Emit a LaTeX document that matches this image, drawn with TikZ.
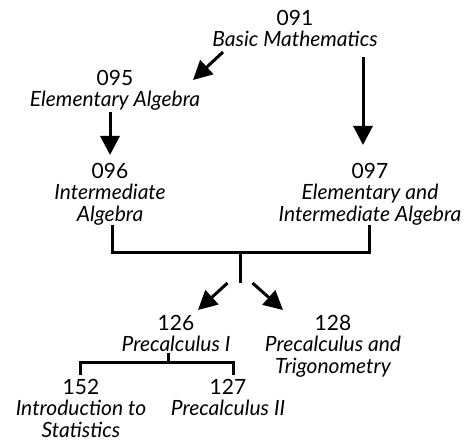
\documentclass[tikz,border=0pt]{standalone}
\usepackage{fontspec}
\setmainfont{Lato}
\usepackage{tikz}
\usetikzlibrary{calc}
\usetikzlibrary{arrows.meta}
\newcommand{\course}[2]{\textup{#1}\\#2}
\tikzset{
    course/.style={anchor=north, align=center, inner sep=0pt, font=\fontsize{21}{21.5}\selectfont\itshape},
    prereq/.style={-{Triangle[length=19pt,width=19pt]}, line width=3pt},
    bar/.style={line width=3pt},
}

\begin{document}
\begin{tikzpicture}[x=1pt,y=-1pt]
    \useasboundingbox (0,0) rectangle (474,441);
    \path
        node[course] (n091) at (295,10) {\course{091}{Basic Mathematics}}
        node[course] (n095) at (115,70) {\course{095}{Elementary Algebra}}
        node[course] (n096) at (110,163) {\course{096}{Intermediate\\Algebra}}
        node[course] (n097) at (370,163) {\course{097}{Elementary and\\Intermediate Algebra}}
        node[course] (n126) at (176,315) {\course{126}{Precalculus I}}
        node[course] (n128) at (333,315) {\course{128}{Precalculus and\\Trigonometry}}
        node[course] (n152) at (81,379) {\course{152}{Introduction to\\Statistics}}
        node[course] (n127) at (228,379) {\course{127}{Precalculus II}};

    \draw[prereq] ([shift={(-72,42)}]n091.north) -- ([shift={(78,10)}]n095.north);
    \draw[prereq] ([shift={(68,47)}]n091.north) -- ([shift={(-7,-18)}]n097.north);
    \draw[prereq] ([shift={(-5,42)}]n095.north) -- ([shift={(0,-8)}]n096.north);

    \coordinate (top096) at ([shift={(2,62)}]n096.north);
    \coordinate (top097) at ([shift={(-1,62)}]n097.north);
    \coordinate (fork) at ($(top096)!.5!(top097)+(0,27)$);
    \draw[bar] (top096) -- ++(0,27) -| (top097);
    \draw[bar] (fork) -- ++(0,31) coordinate (split);
    \draw[prereq] ([shift={(-13,0)}]split) -- ([shift={(22,-5)}]n126.north);
    \draw[prereq] ([shift={(12,0)}]split) -- ([shift={(-50,-5)}]n128.north);

    \draw[bar] ([shift={(-8,38)}]n126.north) -- ++(0,9) coordinate (mid126);
    \draw[bar] ([shift={(-1,-4)}]n152.north) |- (mid126) -| ([shift={(5,-4)}]n127.north);
\end{tikzpicture}
\end{document}
